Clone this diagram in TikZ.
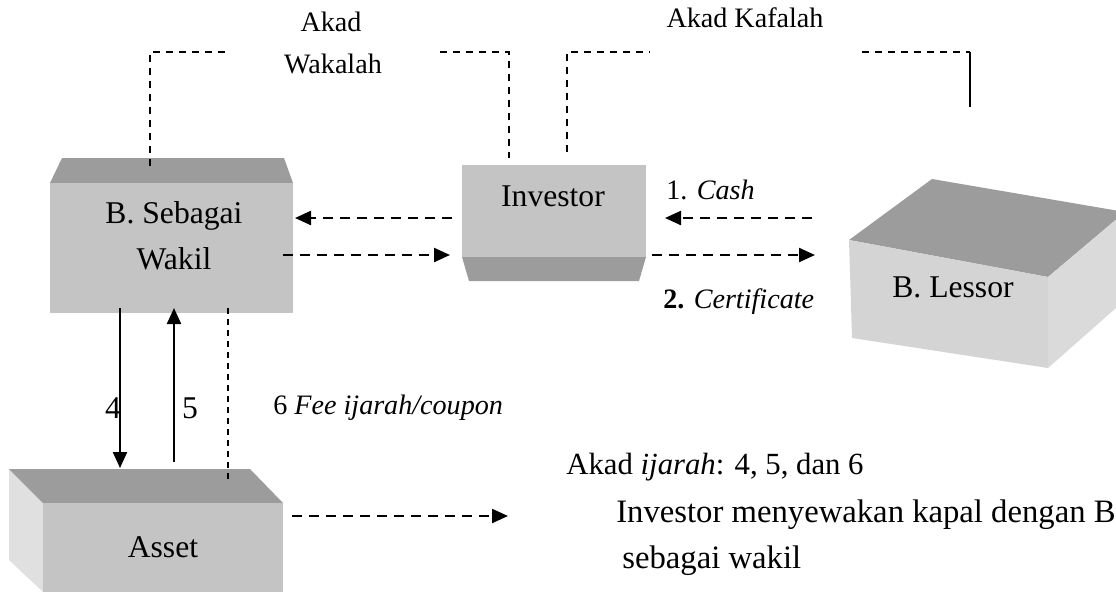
\documentclass[tikz,border=0pt]{standalone}
\usepackage{fontspec}
\setmainfont{Liberation Serif}
\usetikzlibrary{arrows.meta}

\definecolor{bevel}{HTML}{9C9C9C}
\definecolor{face}{HTML}{C4C4C4}
\definecolor{lessorfront}{HTML}{D4D4D4}
\definecolor{lessorside}{HTML}{DADADA}
\definecolor{assetside}{HTML}{E0E0E0}

\tikzset{
  flow/.style={line width=1.3pt, dash pattern=on 2mm off 1.4mm,
    -{Triangle[length=3.2mm,width=2.8mm]}},
  lease/.style={line width=1.3pt, -{Triangle[length=3.2mm,width=2.8mm]}},
  akad/.style={line width=0.75pt, dash pattern=on 1.4mm off 1.2mm},
  feeline/.style={line width=0.65pt, dash pattern=on 1.2mm off 1mm},
  lbl/.style={font=\fontsize{18}{22}\selectfont, inner sep=0pt},
  note/.style={font=\fontsize{16}{20}\selectfont, inner sep=0pt, anchor=west},
  akadlbl/.style={font=\fontsize{16}{20}\selectfont, inner sep=0pt}
}

\begin{document}
\begin{tikzpicture}[x=0.2mm,y=-0.2mm]
	\useasboundingbox (0,0) rectangle (1116,592);
	% boxes
	\fill [bevel] (62,158) -- (284,158) -- (293,183) -- (50,183) -- cycle;
	\fill [face] (50,183) rectangle (293,313);
	\fill [face] (462,165) rectangle (646,257);
	\fill [bevel] (462,257) -- (646,257) -- (639,281) -- (469,281) -- cycle;
	\fill [bevel] (849,240) -- (932,179) -- (1125,212) -- (1048,277) -- cycle;
	\fill [lessorfront] (849,240) -- (1048,277) -- (1048,368) -- (852,338) -- cycle;
	\fill [lessorside] (1048,277) -- (1125,212) -- (1125,300) -- (1048,368) -- cycle;
	\fill [assetside] (9,469) -- (43,503) -- (43,592) -- (9,560) -- cycle;
	\fill [bevel] (9,469) -- (250,469) -- (283,503) -- (43,503) -- cycle;
	\fill [face] (43,503) rectangle (283,592);
	% names
	\node [lbl, align=center] (wakil) at (174,236) {B. Sebagai\\[4pt]Wakil};
	\node [lbl] (investor) at (553,196) {Investor};
	\node [lbl] (lessor) at (953,287) {B. Lessor};
	\node [lbl] (asset) at (163,547) {Asset};
	% akad
	\node [akadlbl] (wakalah1) at (331,22) {Akad};
	\node [akadlbl] (wakalah2) at (333,64) {Wakalah};
	\node [akadlbl] (kafalah) at (745,18) {Akad Kafalah};
	\coordinate (w1) at (150,166);
	\coordinate (w2) at (150,52);
	\coordinate (w3) at (225,52);
	\coordinate (w4) at (440,52);
	\coordinate (w5) at (509,52);
	\coordinate (w6) at (509,158);
	\draw [akad] (w1) -- (w2) -- (w3);
	\draw [akad] (w4) -- (w5) -- (w6);
	\coordinate (k1) at (567,152);
	\coordinate (k2) at (567,52);
	\coordinate (k3) at (650,52);
	\coordinate (k4) at (862,52);
	\coordinate (k5) at (970,52);
	\coordinate (k6) at (970,107);
	\draw [akad] (k1) -- (k2) -- (k3);
	\draw [akad] (k4) -- (k5);
	\draw [line width=0.9pt] (k5) -- (k6);
	% flows
	\coordinate (a1) at (452,218);
	\coordinate (a2) at (295,218);
	\coordinate (a3) at (283,255);
	\coordinate (a4) at (450,255);
	\coordinate (c1) at (812,218);
	\coordinate (c2) at (665,218);
	\coordinate (c3) at (652,255);
	\coordinate (c4) at (815,255);
	\draw [flow] (a1) -- (a2);
	\draw [flow] (a3) -- (a4);
	\draw [flow] (c1) -- (c2);
	\draw [flow] (c3) -- (c4);
	\node [note] (cash) at (666,190) {1. \textit{Cash}};
	\node [note] (cert) at (663,302) {\textbf{2.} \textit{Certificate}};
	% ijarah
	\coordinate (d1) at (120,308);
	\coordinate (d2) at (120,468);
	\coordinate (u1) at (174,462);
	\coordinate (u2) at (174,308);
	\coordinate (f1) at (228,308);
	\coordinate (f2) at (228,480);
	\draw [lease] (d1) -- (d2);
	\draw [lease] (u1) -- (u2);
	\draw [feeline] (f1) -- (f2);
	\node [lbl] (four) at (113,408) {4};
	\node [lbl] (five) at (190,408) {5};
	\node [note] (fee) at (273,408) {6 \textit{Fee ijarah/coupon}};
	\coordinate (s1) at (292,516);
	\coordinate (s2) at (508,516);
	\draw [flow] (s1) -- (s2);
	\node [note, font=\fontsize{17.5}{21}\selectfont] (ijarah) at (566,467) {Akad \textit{ijarah}: 4, 5, dan 6};
	\node [note, font=\fontsize{18.6}{22}\selectfont] (sewa1) at (616,515) {Investor menyewakan kapal dengan B};
	\node [note, font=\fontsize{18.6}{22}\selectfont] (sewa2) at (622,561) {sebagai wakil};
\end{tikzpicture}
\end{document}
